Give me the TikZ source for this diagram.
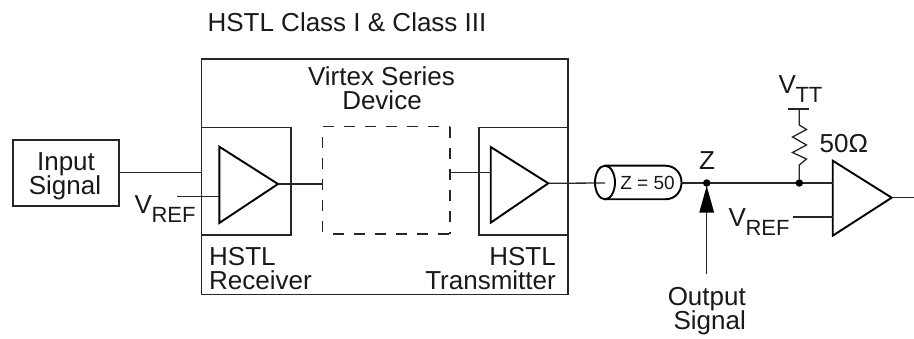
\documentclass[tikz,border=0pt]{standalone}
\usepackage{fontspec}
\setmainfont{Liberation Sans}
\tikzset{
  wire/.style={draw=black!85,line width=1.3pt},
  heavy/.style={draw=black,line width=1.9pt,line join=miter},
  dashwire/.style={wire,dash pattern=on 11pt off 10pt},
  lbl/.style={inner sep=0pt,anchor=base,font=\fontsize{26}{26}\selectfont,text=black!90},
  lblw/.style={lbl,anchor=base west},
  lble/.style={lbl,anchor=base east},
  lblsm/.style={inner sep=0pt,font=\fontsize{19}{19}\selectfont,text=black!90},
  dot/.style={circle,fill=black,inner sep=0pt,minimum size=7.5pt},
}
\newcommand{\vsub}[1]{V\raisebox{-8.5pt}{\kern-0.5pt\fontsize{22}{22}\selectfont #1}}
\begin{document}
\begin{tikzpicture}[x=1pt,y=-1pt]
\useasboundingbox (0,0) rectangle (914,339);
% key points
\coordinate (inE) at (119,172.3);
\coordinate (devW) at (201.7,172.3);
\coordinate (a1t) at (278,184);
\coordinate (dashW) at (322.7,184);
\coordinate (dashE) at (450,172.7);
\coordinate (a2in) at (490.7,172.7);
\coordinate (a2t) at (548.3,183.3);
\coordinate (cabW) at (605,183);
\coordinate (cabE) at (681,183);
\coordinate (a3in) at (832.7,183);
\coordinate (a3t) at (891.7,197.7);
\coordinate (outE) at (914,197.7);
% boxes
\node[lbl] (title) at (347,32) {HSTL Class I \& Class III};
\draw[wire] (13,140) rectangle (119,206);
\draw[wire] (201.7,59) rectangle (568,294.5);
\draw[wire] (201.7,127.5) rectangle (291,235);
\draw[wire] (479,127.5) rectangle (568,235);
\draw[dashwire] (322.7,126.7) -- (450,126.7);
\draw[dashwire] (450,126.7) -- (450,234);
\draw[dashwire] (322.7,137.5) -- (322.7,234);
\draw[dashwire] (333,234) -- (450,234);
% labels
\node[lbl] (in1) at (66,171) {Input};
\node[lbl] (in2) at (65,195) {Signal};
\node[lbl] (dev1) at (381.5,86) {Virtex Series};
\node[lbl] (dev2) at (382,110) {Device};
\node[lblw] (hr1) at (209,266) {HSTL};
\node[lblw] (hr2) at (209,290) {Receiver};
\node[lble] (ht1) at (556,266) {HSTL};
\node[lble] (ht2) at (556,290) {Transmitter};
\node[lblw] (vr1) at (134.5,214) {\vsub{REF}};
\node[lblw] (vr2) at (728.5,227) {\vsub{REF}};
\node[lblw] (vtt) at (778.5,94) {\vsub{TT}};
\node[lblw] (ohm) at (819.5,153) {50Ω};
\node[lbl] (zlab) at (707,170) {Z};
\node[lble] (os1) at (746,306) {Output};
\node[lble] (os2) at (746,330) {Signal};
% amps
\draw[heavy] (219.3,146.7) -- (a1t) -- (219.3,223) -- cycle;
\draw[heavy] (490.7,147) -- (a2t) -- (490.7,222.7) -- cycle;
\draw[heavy] (832.7,160.7) -- (a3t) -- (832.7,235.7) -- cycle;
% wires
\draw[wire] (inE) -- (devW);
\draw[wire] (177,196.7) -- (219.3,196.7);
\draw[wire] (a1t) -- (dashW);
\draw[wire] (dashE) -- (a2in);
\draw[wire] (a2t) -- (cabW);
% cable
\draw[heavy] (605,165.7) -- (665,165.7) .. controls (687,165.7) and (687,199.3) .. (665,199.3) -- (605,199.3);
\draw[heavy] (605,182.5) circle[x radius=10,y radius=16.8];
\node[lblsm] (zcab) at (647.5,183) {Z = 50};
\draw[wire] (cabE) -- (a3in);
\node[dot] (d1) at (706.7,183) {};
\node[dot] (d2) at (799.3,183) {};
% arrow
\draw[wire] (706.7,274) -- (d1);
\fill[black] (706.7,186) -- (714.2,212.7) -- (699.2,212.7) -- cycle;
% resistor
\coordinate (vbar) at (799.3,109);
\draw[wire] (d2) -- (799.3,165) -- (806.5,159) -- (792.5,152.5) -- (806.5,145) -- (792.5,137) -- (806.5,129.5) -- (799.3,125) -- (vbar);
\draw[wire] (787.7,109) -- (809.3,109);
% rest
\draw[wire] (792.7,217) -- (832.7,217);
\draw[wire] (a3t) -- (outE);
\end{tikzpicture}
\end{document}
